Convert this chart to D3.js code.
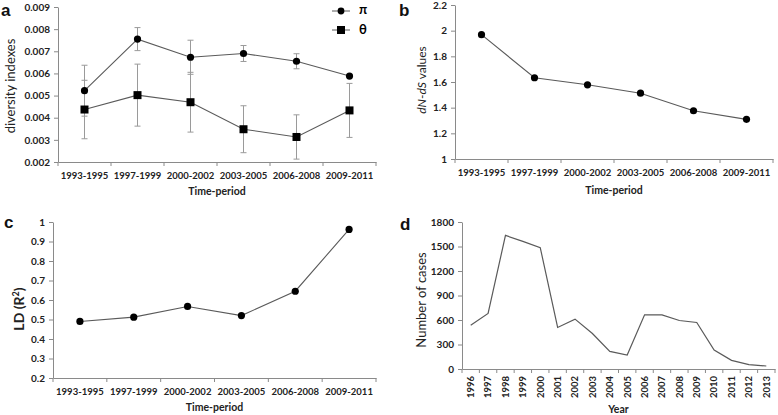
<!DOCTYPE html>
<html><head><meta charset="utf-8">
<script src="https://cdn.jsdelivr.net/npm/d3@7"></script>
<style>body{margin:0;background:#fff}svg{display:block}</style>
</head><body>
<svg id="c" width="778" height="415"></svg>
<script>
const periods = ["1993-1995","1997-1999","2000-2002","2003-2005","2006-2008","2009-2011"];
const piVals = [0.00522,0.00755,0.00673,0.0069,0.00655,0.00588];
const piErr = [0.00115,0.00052,0.00077,0.00036,0.00034,0];
const thetaVals = [0.00437,0.00502,0.0047,0.00348,0.00313,0.00433];
const thetaErr = [0.00132,0.0014,0.00135,0.00106,0.001,0.00122];
const dndsVals = [1.969,1.633,1.578,1.513,1.376,1.309];
const ldVals = [0.49,0.512,0.567,0.52,0.645,0.962];
const years = ["1996","1997","1998","1999","2000","2001","2002","2003","2004","2005","2006","2007","2008","2009","2010","2011","2012","2013"];
const cases = [537,680,1636,1563,1486,509,611,435,216,171,663,663,594,570,232,106,53,37];
const ticksA = [0.002,0.003,0.004,0.005,0.006,0.007,0.008,0.009];
const ticksB = [1,1.2,1.4,1.6,1.8,2,2.2];
const ticksC = [0.2,0.3,0.4,0.5,0.6,0.7,0.8,0.9,1];
const ticksD = [0,300,600,900,1200,1500,1800];

const svg = d3.select("#c");
const FONT = "Lato, 'Open Sans', sans-serif";
const AX = "#8a8a8a", LINE = "#5a5a5a";

function panel(o){
  const g = svg.append("g");
  const x = d3.scaleBand().domain(o.cats).range(o.xr).padding(0);
  const y = d3.scaleLinear().domain(o.yd).range(o.yr);
  const ya = g.append("g").attr("transform",`translate(${o.xr[0]},0)`)
    .call(d3.axisLeft(y).tickValues(o.yt).tickSize(4).tickSizeOuter(0).tickFormat(o.fmt));
  ya.select(".domain").attr("stroke",AX);
  ya.selectAll(".tick line").attr("stroke",AX);
  ya.selectAll("text").attr("font-family",FONT).attr("font-weight","bold").attr("font-size",o.yfs||10).attr("fill","#222").attr("dx",-1);
  const xa = g.append("g").attr("transform",`translate(0,${o.yr[0]})`)
    .call(d3.axisBottom(x).tickSize(0).tickSizeOuter(0));
  xa.select(".domain").attr("stroke",AX);
  if(o.rot){
    xa.selectAll(".tick text").remove();
    xa.selectAll(".tick").append("text")
      .attr("transform","translate(0,7) rotate(-90)")
      .attr("text-anchor","end").attr("dy","0.35em")
      .attr("font-family",FONT).attr("font-weight","bold").attr("font-size",o.xfs||9.5).attr("fill","#222")
      .text(d=>d);
  } else {
    xa.selectAll("text").attr("font-family",FONT).attr("font-weight","bold").attr("font-size",o.xfs||9.5).attr("fill","#222")
      .attr("dy",o.xdy||14);
  }
  const bounds = o.cats.map(c=>x(c)).concat([o.xr[1]]);
  g.selectAll("line.bt").data(bounds).enter().append("line")
    .attr("x1",d=>d).attr("x2",d=>d).attr("y1",o.yr[0]).attr("y2",o.yr[0]+4).attr("stroke",AX);
  g.append("text").attr("x",(o.xr[0]+o.xr[1])/2).attr("y",o.xty).attr("text-anchor","middle")
    .attr("font-family",FONT).attr("font-weight","bold").attr("font-size",10.5).attr("fill","#222").text(o.xtitle);
  const yt = g.append("text").attr("transform",`translate(${o.ytx},${o.yty}) rotate(-90)`).attr("text-anchor","middle")
    .attr("font-family",FONT).attr("font-size",o.ytfs||13).attr("font-weight",o.ytw||"normal").attr("fill","#222");
  o.ytitle(yt);
  g.append("text").attr("x",o.lx).attr("y",o.ly).attr("font-family","'Liberation Sans', Arial, sans-serif")
    .attr("font-weight","bold").attr("font-size",17).attr("fill","#111").text(o.label);
  return {g,x,y};
}

function series(p, cats, vals, marker){
  const cx = c=>p.x(c)+p.x.bandwidth()/2;
  p.g.append("path").datum(vals).attr("fill","none").attr("stroke",LINE).attr("stroke-width",1.1)
    .attr("d",d3.line().x((d,i)=>cx(cats[i])).y(d=>p.y(d)));
  if(marker==="sq"){
    p.g.selectAll(null).data(vals).enter().append("rect")
      .attr("x",(d,i)=>cx(cats[i])-4).attr("y",d=>p.y(d)-4).attr("width",8).attr("height",8).attr("fill","#000");
  } else {
    p.g.selectAll(null).data(vals).enter().append("circle")
      .attr("cx",(d,i)=>cx(cats[i])).attr("cy",d=>p.y(d)).attr("r",3.6).attr("fill","#000");
  }
}
function errbars(p, cats, vals, errs){
  const cx = c=>p.x(c)+p.x.bandwidth()/2;
  vals.forEach((v,i)=>{
    if(!errs[i]) return;
    const X = cx(cats[i]), t=p.y(v+errs[i]), b=p.y(v-errs[i]);
    const e = p.g.append("g").attr("stroke","#9a9a9a").attr("stroke-width",1);
    e.append("line").attr("x1",X).attr("x2",X).attr("y1",t).attr("y2",b);
    e.append("line").attr("x1",X-3).attr("x2",X+3).attr("y1",t).attr("y2",t);
    e.append("line").attr("x1",X-3).attr("x2",X+3).attr("y1",b).attr("y2",b);
  });
}

const pa = panel({cats:periods,xr:[58,376],yd:[0.002,0.009],yr:[162,7],yt:ticksA,fmt:d3.format(".3f"),
  xtitle:"Time-period",xty:195,xdy:14,ytx:15,yty:86,ytitle:t=>t.text("diversity indexes"),label:"a",lx:1,ly:16});
errbars(pa,periods,piVals,piErr);
errbars(pa,periods,thetaVals,thetaErr);
series(pa,periods,piVals,"c");
series(pa,periods,thetaVals,"sq");
const lg = pa.g.append("g");
lg.append("line").attr("x1",332).attr("x2",350).attr("y1",11).attr("y2",11).attr("stroke",LINE);
lg.append("circle").attr("cx",341).attr("cy",11).attr("r",3.4).attr("fill","#000");
lg.append("text").attr("x",359).attr("y",14).attr("font-family",FONT).attr("font-weight","bold").attr("font-size",13).text("π");
lg.append("line").attr("x1",332).attr("x2",350).attr("y1",30).attr("y2",30).attr("stroke",LINE);
lg.append("rect").attr("x",337).attr("y",26).attr("width",8).attr("height",8).attr("fill","#000");
lg.append("text").attr("x",359).attr("y",34).attr("font-family",FONT).attr("font-weight","bold").attr("font-size",13).text("θ");

const pb = panel({cats:periods,xr:[455,773],yd:[1,2.2],yr:[159,5],yt:ticksB,fmt:d3.format("~g"),
  xtitle:"Time-period",xty:194,xdy:14,ytx:426,yty:80,ytfs:12,ytitle:t=>{
    t.append("tspan").attr("font-style","italic").text("dN");
    t.append("tspan").text("-");
    t.append("tspan").attr("font-style","italic").text("dS");
    t.append("tspan").text(" values");
  },label:"b",lx:399,ly:16});
series(pb,periods,dndsVals,"c");

const pc = panel({cats:periods,xr:[53,376],yd:[0.2,1],yr:[378,222],yt:ticksC,fmt:d3.format("~g"),
  xtitle:"Time-period",xty:411,xdy:14,ytx:24,yty:309,ytfs:14,ytw:"bold",ytitle:t=>{
    t.append("tspan").text("LD (R");
    t.append("tspan").attr("font-size",9).attr("dy",-5).text("2");
    t.append("tspan").attr("dy",5).text(")");
  },label:"c",lx:4,ly:228});
series(pc,periods,ldVals,"c");

const pd = panel({cats:years,xr:[462,775],yd:[0,1800],yr:[369,222],yt:ticksD,fmt:d3.format("d"),rot:true,
  xtitle:"Year",xty:413,ytx:426,yty:300,ytfs:13,ytitle:t=>t.text("Number of cases"),label:"d",lx:400,ly:230});
{
  const cx = c=>pd.x(c)+pd.x.bandwidth()/2;
  pd.g.append("path").datum(cases).attr("fill","none").attr("stroke",LINE).attr("stroke-width",1.2)
    .attr("d",d3.line().x((d,i)=>cx(years[i])).y(d=>pd.y(d)));
}
</script>
</body></html>
